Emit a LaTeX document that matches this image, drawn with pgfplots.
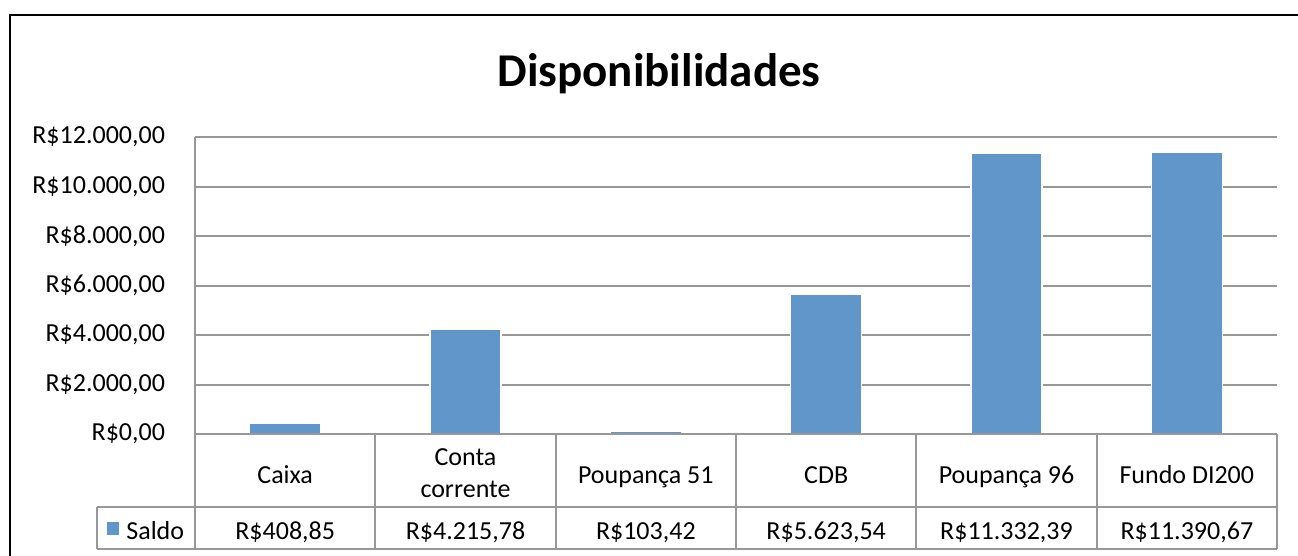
\documentclass[border=0pt]{standalone}
\usepackage{pgfplots}
\pgfplotsset{compat=1.18}
\usepackage{fontspec}
\setmainfont{Carlito}
\definecolor{barblue}{RGB}{96,150,201}
\definecolor{gridgray}{RGB}{152,152,152}
\begin{document}
\begin{tikzpicture}
\begin{scope}[x=0.5bp,y=-0.5bp]
\useasboundingbox (0,0) rectangle (1298,556);
% outer chart border
\draw[black,line width=1bp] (10,560) -- (10,15) -- (1300,15);
% title
\node[anchor=base,font=\fontsize{23.5bp}{28bp}\selectfont\bfseries] at (659,87) {Disponibilidades};
\end{scope}
\begin{axis}[
  at={(97.5bp,-217bp)}, anchor=south west,
  scale only axis, width=541bp, height=148.5bp,
  xmin=-0.5, xmax=5.5, ymin=0, ymax=12000,
  axis x line=none,
  axis y line*=left,
  axis line style={gridgray,line width=1bp},
  ytick={0,2000,4000,6000,8000,10000,12000},
  yticklabels={{R\$0,00},{R\$2.000,00},{R\$4.000,00},{R\$6.000,00},{R\$8.000,00},{R\$10.000,00},{R\$12.000,00}},
  major tick length=0pt,
  ymajorgrids, grid style={gridgray,line width=1bp},
  yticklabel style={font=\fontsize{13bp}{15bp}\selectfont, anchor=east, xshift=-11.5bp},
  scaled y ticks=false,
  clip=false,
]
\addplot[ybar, bar width=35.5bp, fill=barblue, draw=white, line width=0.6bp]
  coordinates {(0,408.85) (1,4215.78) (2,103.42) (3,5623.54) (4,11332.39) (5,11390.67)};
\end{axis}
\begin{scope}[x=0.5bp,y=-0.5bp,font=\fontsize{13bp}{15.8bp}\selectfont]
% data table lines
\draw[gridgray,line width=1bp] (195,434) -- (1277,434);
\draw[gridgray,line width=1bp] (97,507) -- (1277,507);
\draw[gridgray,line width=1bp] (97,549) -- (1277,549);
\draw[gridgray,line width=1bp] (97,507) -- (97,549);
\foreach \xx in {195,375.33,555.67,736,916.33,1096.67,1277} {
  \draw[gridgray,line width=1bp] (\xx,434) -- (\xx,549);
}
% legend cell
\fill[barblue] (107,522) rectangle (119,535);
\node[anchor=base west,inner sep=0pt] at (126,539) {Saldo};
% category names
\node[anchor=base,inner sep=0pt] at (285.17,483) {Caixa};
\node[anchor=base,inner sep=0pt] at (465.5,465.7) {Conta};
\node[anchor=base,inner sep=0pt] at (465.5,497.3) {corrente};
\node[anchor=base,inner sep=0pt] at (645.83,483) {Poupança 51};
\node[anchor=base,inner sep=0pt] at (826.17,483) {CDB};
\node[anchor=base,inner sep=0pt] at (1006.5,483) {Poupança 96};
\node[anchor=base,inner sep=0pt] at (1186.83,483) {Fundo DI200};
% values
\node[anchor=base,inner sep=0pt] at (285.17,539) {R\$408,85};
\node[anchor=base,inner sep=0pt] at (465.5,539) {R\$4.215,78};
\node[anchor=base,inner sep=0pt] at (645.83,539) {R\$103,42};
\node[anchor=base,inner sep=0pt] at (826.17,539) {R\$5.623,54};
\node[anchor=base,inner sep=0pt] at (1006.5,539) {R\$11.332,39};
\node[anchor=base,inner sep=0pt] at (1186.83,539) {R\$11.390,67};
\end{scope}
\end{tikzpicture}
\end{document}
